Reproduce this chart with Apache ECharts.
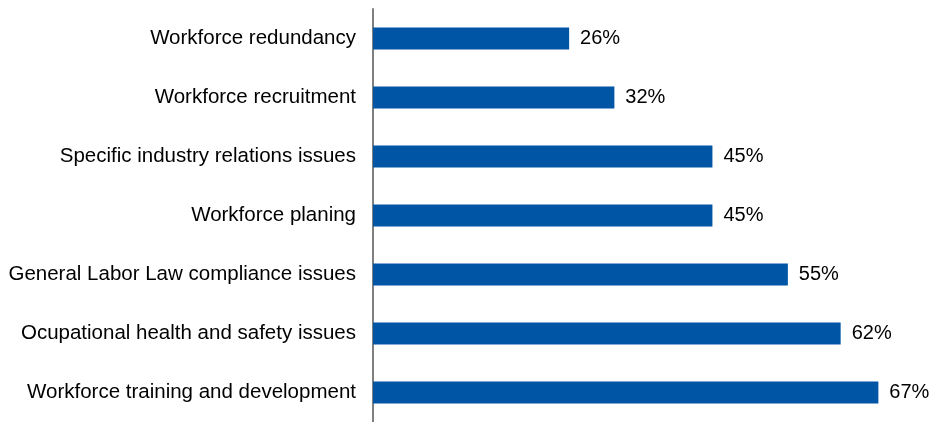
<!DOCTYPE html>
<html>
<head>
<meta charset="utf-8">
<script src="https://cdn.jsdelivr.net/npm/echarts@6/dist/echarts.min.js"></script>
<style>
  html, body { margin: 0; padding: 0; background: #fff; }
  #chart { width: 934px; height: 422px; }
</style>
</head>
<body>
<div id="chart"></div>
<script>
// top to bottom as in the picture
const categories = [
    "Workforce redundancy",
    "Workforce recruitment",
    "Specific industry relations issues",
    "Workforce planing",
    "General Labor Law compliance issues",
    "Ocupational health and safety issues",
    "Workforce training and development"
];
const shares = [26, 32, 45, 45, 55, 62, 67];

var myChart = echarts.init(document.getElementById("chart"), null, { renderer: 'canvas' });

var option = {
    animation: false,
    grid: { left: 373, right: 33, top: 9, bottom: 0, containLabel: false },
    xAxis: {
        type: 'value',
        min: 0,
        max: 70,
        show: false
    },
    yAxis: {
        type: 'category',
        inverse: true,
        data: categories,
        axisLine: { show: true, lineStyle: { color: '#7f7f7f', width: 2 } },
        axisTick: { show: false },
        axisLabel: {
            margin: 17,
            color: '#000',
            fontFamily: 'Liberation Sans, Arial, sans-serif',
            fontSize: 20.5
        }
    },
    series: [{
        type: 'bar',
        data: shares,
        barWidth: 22,
        itemStyle: { color: '#0055a5' },
        label: {
            show: true,
            position: 'right',
            distance: 11,
            formatter: '{c}%',
            color: '#000',
            fontFamily: 'Liberation Sans, Arial, sans-serif',
            fontSize: 20
        }
    }]
};

myChart.setOption(option);
window.addEventListener('resize', myChart.resize);
</script>
</body>
</html>
